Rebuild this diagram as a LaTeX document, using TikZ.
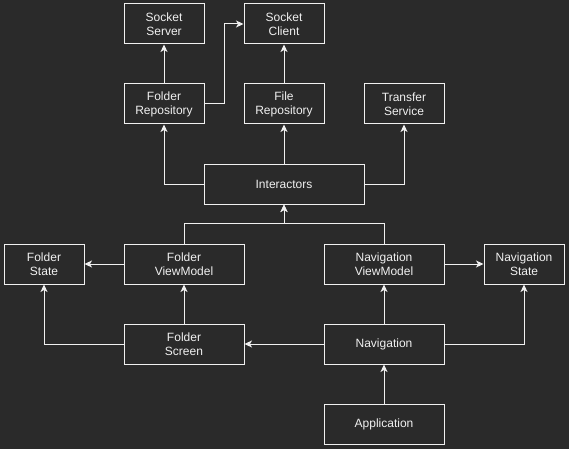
\documentclass[tikz,border=0pt]{standalone}
\usepackage{fontspec}
\setmainfont{Liberation Sans}
\usepackage{xcolor}
\usetikzlibrary{arrows.meta,positioning}

\definecolor{bgdark}{HTML}{2A2A2A}
\definecolor{fgline}{HTML}{F0F0F0}

\begin{document}
\begin{tikzpicture}[x=1pt, y=-1pt, >={Stealth[length=7.5pt,width=7pt,inset=2pt]},
  font=\fontsize{12}{14}\selectfont,
  box/.style={draw=fgline, line width=1pt, fill=bgdark, text=fgline, align=center,
    minimum height=40pt, inner sep=0pt},
  conn/.style={->, draw=fgline, line width=1pt}]
  % Background
  \fill[bgdark] (0,0) rectangle (569,449);
  \useasboundingbox (0,0) rectangle (569,449);

  % Top row: sockets
  \node[box, minimum width=80pt] (ssrv) at (164,24) {Socket\\Server};
  \node[box, minimum width=80pt] (scli) at (284,24) {Socket\\Client};

  % Repositories and services
  \node[box, minimum width=80pt] (frepo) at (164,104) {Folder\\Repository};
  \node[box, minimum width=80pt] (filerepo) at (284,104) {File\\Repository};
  \node[box, minimum width=80pt] (xfer) at (404,104) {Transfer\\Service};

  \node[box, minimum width=160pt] (inter) at (284,184) {Interactors};

  % View models and states
  \node[box, minimum width=80pt] (fstate) at (44,264) {Folder\\State};
  \node[box, minimum width=120pt] (fvm) at (184,264) {Folder\\ViewModel};
  \node[box, minimum width=120pt] (nvm) at (384,264) {Navigation\\ViewModel};
  \node[box, minimum width=80pt] (nstate) at (524,264) {Navigation\\State};

  % Screens
  \node[box, minimum width=120pt] (fscr) at (184,344) {Folder\\Screen};
  \node[box, minimum width=120pt] (nav) at (384,344) {Navigation};
  \node[box, minimum width=120pt] (app) at (384,424) {Application};

  % Connectors
  \draw[conn] (frepo) -- (ssrv);
  \draw[conn] (frepo.east) -- ++(20,0) |- (scli.west);
  \draw[conn] (filerepo) -- (scli);
  \draw[conn] (inter.west) -| (frepo);
  \draw[conn] (inter) -- (filerepo);
  \draw[conn] (inter.east) -| (xfer);
  \draw[conn] (fvm.north) -- ++(0,-20) -| (inter.south);
  \draw[conn] (nvm.north) -- ++(0,-20) -| (inter.south);
  \draw[conn] (fvm) -- (fstate);
  \draw[conn] (fscr) -- (fvm);
  \draw[conn] (fscr.west) -| (fstate);
  \draw[conn] (nav) -- (fscr);
  \draw[conn] (nav) -- (nvm);
  \draw[conn] (nav.east) -| (nstate);
  \draw[conn] (nvm) -- (nstate);
  \draw[conn] (app) -- (nav);
\end{tikzpicture}
\end{document}
